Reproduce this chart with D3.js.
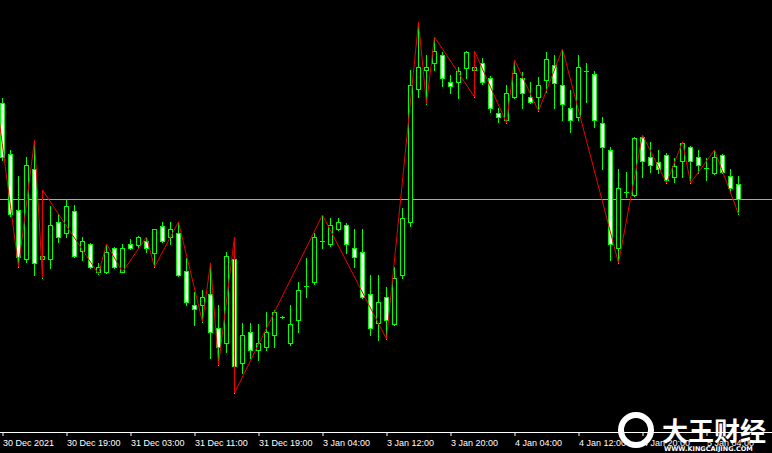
<!DOCTYPE html>
<html>
<head>
<meta charset="utf-8">
<script src="https://cdn.jsdelivr.net/npm/d3@7"></script>
<style>
html,body{margin:0;padding:0;background:#000;}
svg{display:block;}
</style>
</head>
<body>
<svg id="chart" width="772" height="453"></svg>
<script>
// Hourly bars, 30 Dec 2021 11:00 → 5 Jan 2022 (price in chart units)
const open  = [397,346,290,241,331,241,241,278,267,289,249,256,228,228,252,228,256,255,259,247,274,263,267,229,195,195,206,172,157,241,137,168,150,153,165,183,157,180,214,218,259,256,271,275,252,248,206,177,203,176,225,278,411,430,437,445,418,418,432,430,437,422,387,380,403,422,403,403,420,435,415,392,383,429,426,377,350,252,308,305,363,343,338,345,323,339,353,343,332,327,345,324,316];
const high  = [402,350,324,343,360,310,294,286,300,295,263,257,237,256,253,256,261,264,263,271,278,278,278,242,208,210,237,195,248,263,177,177,176,188,190,184,195,218,242,267,285,282,282,277,271,271,225,225,213,233,292,430,478,445,463,448,425,433,449,449,442,424,392,415,440,428,418,423,448,445,451,410,445,437,429,383,353,331,328,363,365,358,350,347,342,358,354,350,342,350,346,331,324];
const low   = [340,284,233,238,225,222,232,258,263,243,240,232,226,227,232,228,251,252,248,233,258,256,224,195,175,178,142,135,148,107,127,142,140,150,153,182,155,168,203,216,252,254,270,247,233,202,165,160,161,175,222,274,403,396,430,414,407,402,422,403,416,388,378,377,402,392,397,389,408,392,380,368,380,398,373,331,240,237,303,304,323,328,327,317,318,323,317,327,320,326,327,308,286];
const close = [343,286,243,335,237,244,275,263,294,244,259,233,233,248,233,252,252,263,252,271,259,271,225,198,191,203,168,153,244,134,165,150,157,168,188,183,176,210,214,263,259,275,278,256,243,203,172,198,180,222,282,415,433,433,449,422,414,429,448,433,418,392,383,407,427,407,398,415,441,417,396,380,433,429,380,353,256,312,308,362,339,335,331,320,334,357,339,335,332,343,328,312,301];

// ZigZag indicator vertices: bar index and price
const zigIndex = [-1,2,4,5,5,12,13,15,18,19,22,25,26,27,29,29,40,48,52,53,54,59,59,63,64,67,70,77,80,83,85,86,89,92];
const zigPrice = [415,233,360,222,310,226,256,228,263,233,278,178,237,135,263,107,285,161,478,396,463,403,449,377,440,389,451,237,365,317,358,317,350,286];

// Time axis labels (every 8 bars)
const tickIndex  = [0,8,16,24,32,40,48,56,64,72,80,88];
const tickLabels = ["30 Dec 2021","30 Dec 19:00","31 Dec 03:00","31 Dec 11:00","31 Dec 19:00","3 Jan 04:00","3 Jan 12:00","3 Jan 20:00","4 Jan 04:00","4 Jan 12:00","4 Jan 20:00","5 Jan 04:00"];

const W = 772, H = 453, plotBottom = 432;
const svg = d3.select("#chart");
svg.append("rect").attr("width", W).attr("height", H).attr("fill", "#000");

const x = d3.scaleLinear().domain([0, 92]).range([2, 738]);
const y = d3.scaleLinear().domain([68, 500]).range([plotBottom, 0]);

const GREEN = "#00ff00";

const bars = open.map((o, i) => ({i, o, h: high[i], l: low[i], c: close[i]}));

const plot = svg.append("g");

// bid line (last close)
const lastY = Math.round(y(close[close.length - 1])) + 0.5;
plot.append("line").attr("x1", 0).attr("x2", W).attr("y1", lastY).attr("y2", lastY)
  .attr("stroke", "#a3a8b4").attr("stroke-width", 1);

const g = plot.selectAll("g.bar").data(bars).join("g").attr("class", "bar");
g.append("line")
  .attr("x1", d => Math.round(x(d.i)) + 0.5).attr("x2", d => Math.round(x(d.i)) + 0.5)
  .attr("y1", d => Math.round(y(d.h))).attr("y2", d => Math.round(y(d.l)) + 1)
  .attr("stroke", GREEN).attr("stroke-width", 1);
g.filter(d => d.o !== d.c).append("rect")
  .attr("x", d => Math.round(x(d.i)) - 1.5)
  .attr("width", 4)
  .attr("y", d => Math.round(y(Math.max(d.o, d.c))) + 0.5)
  .attr("height", d => Math.max(1, Math.round(y(Math.min(d.o, d.c))) - Math.round(y(Math.max(d.o, d.c)))))
  .attr("fill", d => d.c > d.o ? "#000" : "#ffffff")
  .attr("stroke", GREEN).attr("stroke-width", 1);
g.filter(d => d.o === d.c).append("line")
  .attr("x1", d => Math.round(x(d.i)) - 2).attr("x2", d => Math.round(x(d.i)) + 3)
  .attr("y1", d => Math.round(y(d.o)) + 0.5).attr("y2", d => Math.round(y(d.o)) + 0.5)
  .attr("stroke", GREEN).attr("stroke-width", 1);

// ZigZag
const zz = zigIndex.map((idx, k) => [idx, zigPrice[k]]);
plot.append("path")
  .attr("d", d3.line().x(d => x(d[0]) + 0.5).y(d => y(d[1]))(zz))
  .attr("fill", "none").attr("stroke", "#ee0000").attr("stroke-width", 1);

// Time axis
svg.append("line").attr("x1", 0).attr("x2", W).attr("y1", plotBottom + 0.5).attr("y2", plotBottom + 0.5)
  .attr("stroke", "#fff").attr("stroke-width", 1);
const axis = d3.axisBottom(x).tickValues(tickIndex)
  .tickFormat((d, k) => tickLabels[k]).tickSize(4).tickPadding(3.5).tickSizeOuter(0);
const ax = svg.append("g").attr("transform", `translate(0.5,${plotBottom})`).call(axis);
ax.select(".domain").remove();
ax.selectAll(".tick line").attr("stroke", "#fff");
ax.selectAll(".tick text").attr("fill", "#fff").attr("text-anchor", "start").attr("x", 0)
  .style("font-family", "'Liberation Sans', Arial, sans-serif").style("font-size", "9px");

// Watermark
const wm = svg.append("g");
wm.append("circle").attr("cx", 636).attr("cy", 430).attr("r", 15).attr("fill", "none")
  .attr("stroke", "#fff").attr("stroke-width", 6);
wm.append("text").attr("x", 662).attr("y", 441).attr("fill", "#fff")
  .style("font-family", "'Noto Sans CJK SC', sans-serif").style("font-weight", "bold").style("font-size", "26px")
  .text("大王财经");
wm.append("text").attr("x", 664).attr("y", 451).attr("fill", "#fff")
  .style("font-family", "'DejaVu Sans', sans-serif").style("font-weight", "bold").style("font-size", "6.5px")
  .text("WWW.KINGCAIJING.COM");
</script>
</body>
</html>
